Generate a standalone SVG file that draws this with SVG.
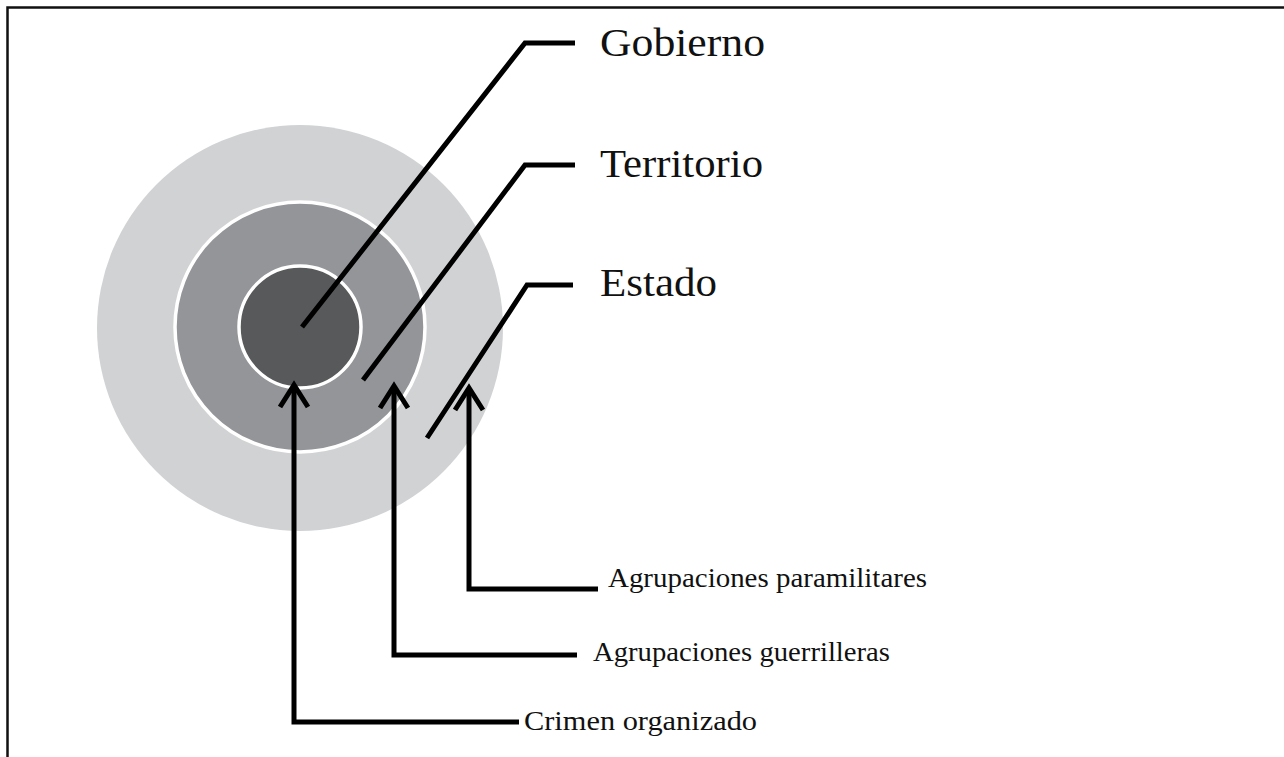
<svg xmlns="http://www.w3.org/2000/svg" width="1284" height="757" viewBox="0 0 1284 757">
<style>
.ln{fill:none;stroke:#000;stroke-width:5;stroke-linecap:butt;stroke-linejoin:miter}
.big{font-family:"Liberation Serif",serif;font-size:40px;fill:#111}
.sm{font-family:"Liberation Serif",serif;font-size:28px;fill:#111}
</style>
<defs>
<marker id="arr" viewBox="-2 -2 30 34" refX="22" refY="15" markerWidth="30" markerHeight="34" markerUnits="userSpaceOnUse" orient="auto">
<path d="M0,1 L22,15 L0,29" fill="none" stroke="#000" stroke-width="5" stroke-linejoin="miter"/>
</marker>
</defs>
<rect width="1284" height="757" fill="#fff"/>
<path d="M7.5,757 V7.5 H1284" fill="none" stroke="#111" stroke-width="2.5"/>
<g id="estado"><circle cx="300" cy="328" r="203" fill="#d1d2d4"/></g>
<g id="territorio"><circle cx="300" cy="327" r="125" fill="#939598" stroke="#fff" stroke-width="3.5"/></g>
<g id="gobierno"><circle cx="300" cy="327" r="61" fill="#58595b" stroke="#fff" stroke-width="3.5"/></g>
<g id="connectors">
<polyline class="ln" points="302,327 525,43 575,43"/>
<polyline class="ln" points="363,380 525,165 575,165"/>
<polyline class="ln" points="427,438 527,285 573,285"/>
<polyline class="ln" points="519,722 294,722 294,385" marker-end="url(#arr)"/>
<polyline class="ln" points="577,655 394,655 394,386" marker-end="url(#arr)"/>
<polyline class="ln" points="598,589 469,589 469,388" marker-end="url(#arr)"/>
</g>
<g id="lbl-gobierno"><text class="big" x="600" y="56" textLength="165" lengthAdjust="spacingAndGlyphs">Gobierno</text></g>
<g id="lbl-territorio"><text class="big" x="600" y="177" textLength="163" lengthAdjust="spacingAndGlyphs">Territorio</text></g>
<g id="lbl-estado"><text class="big" x="600" y="296" textLength="117" lengthAdjust="spacingAndGlyphs">Estado</text></g>
<g id="lbl-para"><text class="sm" x="608" y="587" textLength="319" lengthAdjust="spacingAndGlyphs">Agrupaciones paramilitares</text></g>
<g id="lbl-guer"><text class="sm" x="593" y="661" textLength="297" lengthAdjust="spacingAndGlyphs">Agrupaciones guerrilleras</text></g>
<g id="lbl-crimen"><text class="sm" x="524" y="730" textLength="233" lengthAdjust="spacingAndGlyphs">Crimen organizado</text></g>
</svg>
